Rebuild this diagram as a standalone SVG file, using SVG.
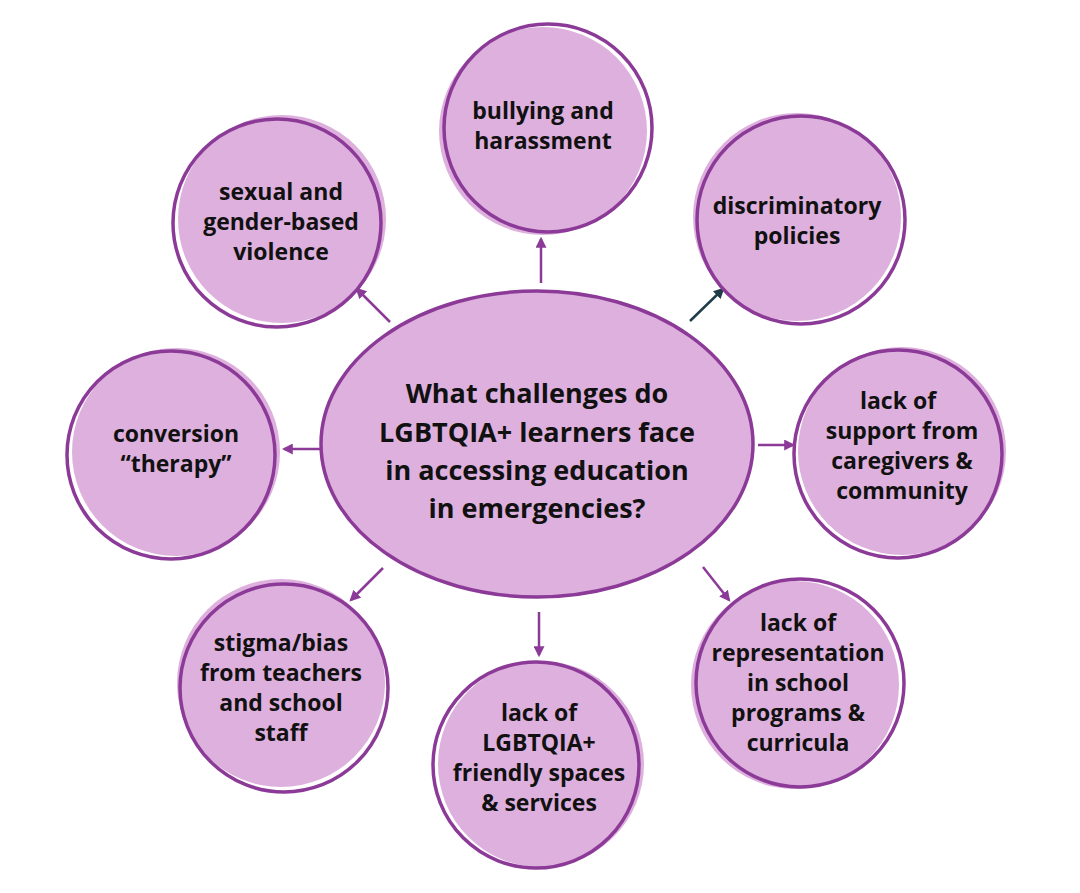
<svg xmlns="http://www.w3.org/2000/svg" width="1080" height="893" viewBox="0 0 1080 893">
<style>
.fill{fill:#DEB0DD;}
.ring{fill:none;stroke:#8C3A97;stroke-width:3.5;}
.t{font-family:"Open Sans","Liberation Sans",sans-serif;font-weight:700;fill:#111;text-anchor:middle;}
.n{font-size:23px;}
.c{font-size:27px;}
.con{stroke:#8C3A97;stroke-width:2.5;fill:none;}
.dark{stroke:#1E3D48;stroke-width:2.5;fill:none;}
</style>
<defs>
<marker id="ah" viewBox="0 0 10 10" refX="8" refY="5" markerWidth="4.4" markerHeight="4.4" orient="auto" markerUnits="strokeWidth">
<path d="M0,0 L10,5 L0,10 z" fill="#8C3A97"/>
</marker>
<marker id="ahd" viewBox="0 0 10 10" refX="8" refY="5" markerWidth="4.4" markerHeight="4.4" orient="auto" markerUnits="strokeWidth">
<path d="M0,0 L10,5 L0,10 z" fill="#1E3D48"/>
</marker>
</defs>
<rect width="1080" height="893" fill="#fff"/>
<g id="connectors">
<line class="con" x1="541" y1="283" x2="541" y2="239" marker-end="url(#ah)"/>
<line class="con" x1="390" y1="322" x2="357" y2="289" marker-end="url(#ah)"/>
<line class="dark" x1="690" y1="321" x2="723" y2="289" marker-end="url(#ahd)"/>
<line class="con" x1="321" y1="449" x2="284" y2="449" marker-end="url(#ah)"/>
<line class="con" x1="758" y1="445" x2="793" y2="445" marker-end="url(#ah)"/>
<line class="con" x1="703" y1="567" x2="729" y2="600" marker-end="url(#ah)"/>
<line class="con" x1="383" y1="568" x2="351" y2="600" marker-end="url(#ah)"/>
<line class="con" x1="539" y1="612" x2="539" y2="655" marker-end="url(#ah)"/>
</g>
<g id="center">
<ellipse class="fill" cx="537" cy="444" rx="216" ry="153"/>
<ellipse class="ring" cx="537" cy="444" rx="216" ry="153"/>
<text class="t c" x="537" y="403">What challenges do</text>
<text class="t c" x="537" y="442">LGBTQIA+ learners face</text>
<text class="t c" x="537" y="480">in accessing education</text>
<text class="t c" x="537" y="518">in emergencies?</text>
</g>
<g id="n-bullying">
<circle class="fill" cx="543" cy="131" r="104"/>
<circle class="ring" cx="548" cy="128" r="104"/>
<text class="t n" x="543" y="119">bullying and</text>
<text class="t n" x="543" y="149">harassment</text>
</g>
<g id="n-sexual">
<circle class="fill" cx="282" cy="219" r="104"/>
<circle class="ring" cx="277" cy="223" r="104"/>
<text class="t n" x="281" y="200">sexual and</text>
<text class="t n" x="281" y="230">gender-based</text>
<text class="t n" x="281" y="260">violence</text>
</g>
<g id="n-discriminatory">
<circle class="fill" cx="797" cy="217" r="104"/>
<circle class="ring" cx="801" cy="220" r="104"/>
<text class="t n" x="797" y="214">discriminatory</text>
<text class="t n" x="797" y="244">policies</text>
</g>
<g id="n-conversion">
<circle class="fill" cx="176" cy="452" r="104"/>
<circle class="ring" cx="171" cy="455" r="104"/>
<text class="t n" x="176" y="442">conversion</text>
<text class="t n" x="176" y="472">“therapy”</text>
</g>
<g id="n-support">
<circle class="fill" cx="902" cy="451" r="104"/>
<circle class="ring" cx="898" cy="454" r="104"/>
<text class="t n" x="898" y="409">lack of</text>
<text class="t n" x="902" y="439">support from</text>
<text class="t n" x="902" y="469">caregivers &amp;</text>
<text class="t n" x="902" y="499">community</text>
</g>
<g id="n-representation">
<circle class="fill" cx="795" cy="685" r="104"/>
<circle class="ring" cx="800" cy="683" r="104"/>
<text class="t n" x="798" y="631">lack of</text>
<text class="t n" x="798" y="661">representation</text>
<text class="t n" x="798" y="691">in school</text>
<text class="t n" x="798" y="721">programs &amp;</text>
<text class="t n" x="798" y="751">curricula</text>
</g>
<g id="n-friendly">
<circle class="fill" cx="541" cy="764" r="103"/>
<circle class="ring" cx="536" cy="765" r="103"/>
<text class="t n" x="539" y="721">lack of</text>
<text class="t n" x="539" y="751">LGBTQIA+</text>
<text class="t n" x="539" y="781">friendly spaces</text>
<text class="t n" x="539" y="811">&amp; services</text>
</g>
<g id="n-stigma">
<circle class="fill" cx="281" cy="683" r="104"/>
<circle class="ring" cx="284" cy="688" r="104"/>
<text class="t n" x="281" y="651">stigma/bias</text>
<text class="t n" x="281" y="681">from teachers</text>
<text class="t n" x="281" y="711">and school</text>
<text class="t n" x="281" y="741">staff</text>
</g>
</svg>
